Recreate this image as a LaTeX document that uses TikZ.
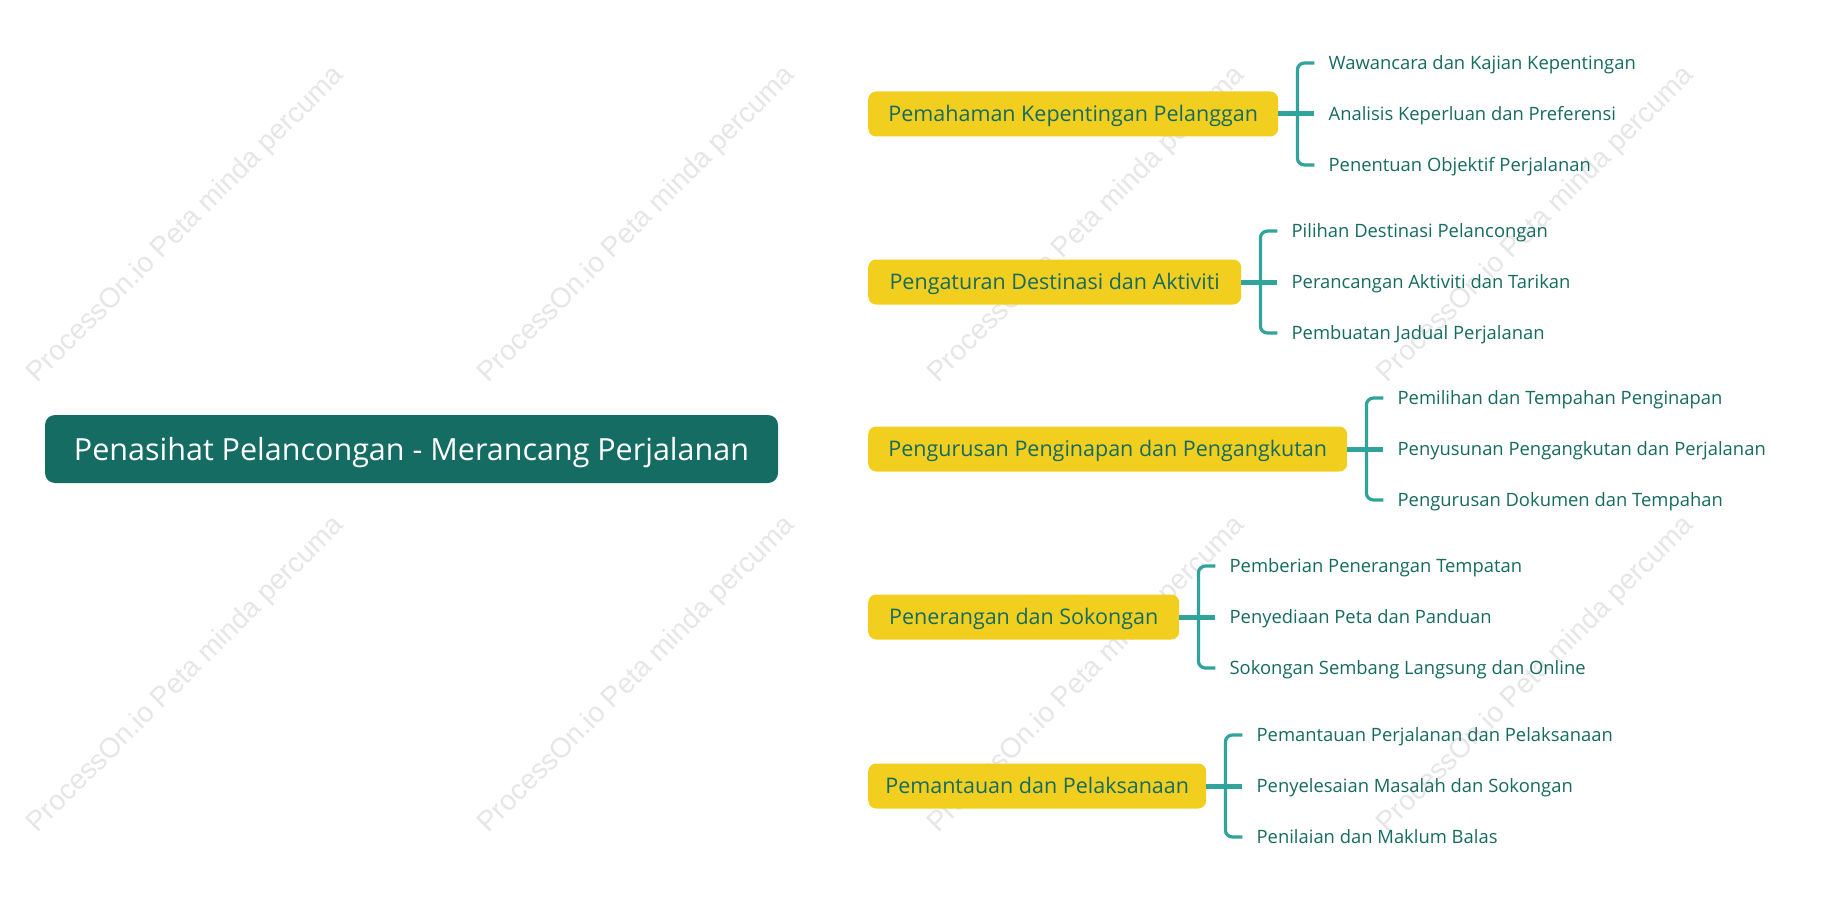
\documentclass[tikz,border=0pt]{standalone}
\usepackage{fontspec}
\setmainfont{Open Sans}
\newfontfamily\wmfont{Liberation Sans}
\usetikzlibrary{calc,backgrounds}
\definecolor{rootfill}{RGB}{20,108,98}
\definecolor{yel}{RGB}{242,207,31}
\definecolor{txt}{RGB}{22,107,97}
\definecolor{linec}{RGB}{48,163,154}
\definecolor{wm}{RGB}{230,230,230}
\tikzset{
  rootbox/.style={fill=rootfill, text=white, rounded corners=10pt, minimum height=68pt,
    inner sep=0pt, text height=24pt, text depth=1pt, font=\fontsize{30.5}{36}\selectfont},
  branchbox/.style={fill=yel, text=txt, rounded corners=8pt, minimum height=45pt,
    inner sep=0pt, text height=16.2pt, text depth=0.8pt, font=\fontsize{21.5}{26}\selectfont},
  leaftext/.style={text=txt, anchor=west, inner sep=0pt, text height=14pt, text depth=0.8pt,
    font=\fontsize{18.4}{22}\selectfont},
  trunk/.style={draw=linec, line width=3pt, rounded corners=12pt},
  stub/.style={draw=linec, line width=5pt},
  brace/.style={draw=linec, line width=3.2pt, rounded corners=7pt},
  watermark/.style={text=wm, rotate=45, font=\wmfont\fontsize{28}{32}\selectfont}
}
\newcommand{\leafgroup}[4]{%
  \node[leaftext] (#1a) at ($(#1.east)+(50,-51)$) {#2};
  \node[leaftext] (#1b) at ($(#1.east)+(50,0)$) {#3};
  \node[leaftext] (#1c) at ($(#1.east)+(50,51)$) {#4};
  \draw[stub] (#1.east) -- ($(#1b.west)+(-14,0)$);
  \draw[brace] ($(#1a.west)+(-14,0)$) -| ($(#1.east)+(19,0)$) |- ($(#1c.west)+(-14,0)$);
}
\begin{document}
\begin{tikzpicture}[x=1pt,y=-1pt]
\useasboundingbox[fill=white] (0,0) rectangle (1825,915);
% watermarks
\foreach \wx in {186,637,1087,1536}{
  \foreach \wy in {225,675}{
    \node[watermark] (wm-\wx-\wy) at (\wx,\wy) {ProcessOn.io Peta minda percuma};
  }
}
\coordinate (hub) at (682,449);
\node[rootbox, minimum width=733pt] (root) at (411.5,449) {Penasihat Pelancongan - Merancang Perjalanan};
\node[branchbox, minimum width=410pt, anchor=west] (b1) at (868,114) {Pemahaman Kepentingan Pelanggan};
\node[branchbox, minimum width=373pt, anchor=west] (b2) at (868,282) {Pengaturan Destinasi dan Aktiviti};
\node[branchbox, minimum width=479pt, anchor=west] (b3) at (868,449) {Pengurusan Penginapan dan Pengangkutan};
\node[branchbox, minimum width=311pt, anchor=west] (b4) at (868,617) {Penerangan dan Sokongan};
\node[branchbox, minimum width=338pt, anchor=west] (b5) at (868,786) {Pemantauan dan Pelaksanaan};
\begin{scope}[on background layer]
  \foreach \b in {b1,b2,b3,b4,b5}{
    \draw[trunk] (hub) |- (\b.west);
  }
\end{scope}
\leafgroup{b1}{Wawancara dan Kajian Kepentingan}{Analisis Keperluan dan Preferensi}{Penentuan Objektif Perjalanan}
\leafgroup{b2}{Pilihan Destinasi Pelancongan}{Perancangan Aktiviti dan Tarikan}{Pembuatan Jadual Perjalanan}
\leafgroup{b3}{Pemilihan dan Tempahan Penginapan}{Penyusunan Pengangkutan dan Perjalanan}{Pengurusan Dokumen dan Tempahan}
\leafgroup{b4}{Pemberian Penerangan Tempatan}{Penyediaan Peta dan Panduan}{Sokongan Sembang Langsung dan Online}
\leafgroup{b5}{Pemantauan Perjalanan dan Pelaksanaan}{Penyelesaian Masalah dan Sokongan}{Penilaian dan Maklum Balas}
\end{tikzpicture}
\end{document}
